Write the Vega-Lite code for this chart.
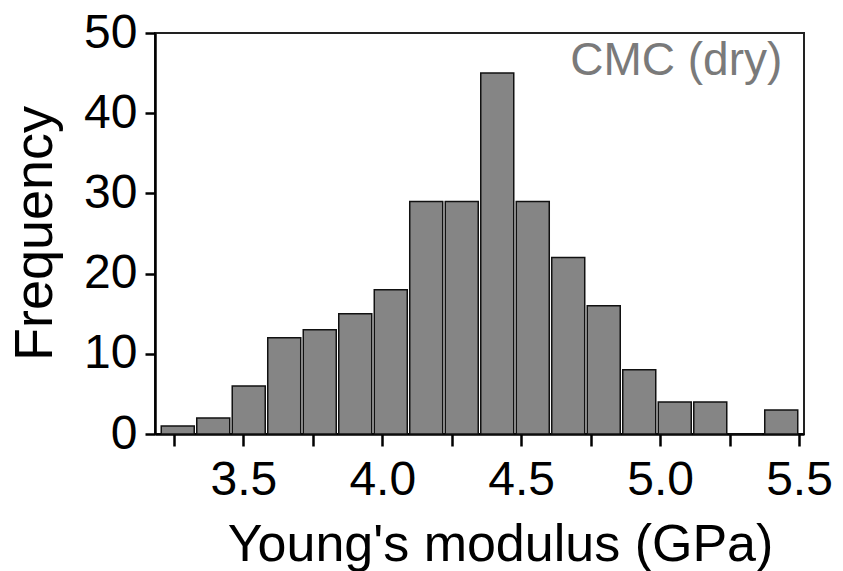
{
  "$schema": "https://vega.github.io/schema/vega-lite/v6.json",
  "width": 649,
  "height": 401,
  "autosize": {"type": "none"},
  "padding": {"left": 155, "top": 33, "right": 39, "bottom": 137},
  "background": "white",
  "config": {
    "view": {"stroke": "#222222", "strokeWidth": 2},
    "font": "Liberation Sans"
  },
  "layer": [
    {
      "data": {
        "values": [
          {"modulus": 3.2639, "frequency": 1},
          {"modulus": 3.3917, "frequency": 2},
          {"modulus": 3.5194, "frequency": 6},
          {"modulus": 3.6472, "frequency": 12},
          {"modulus": 3.775, "frequency": 13},
          {"modulus": 3.9028, "frequency": 15},
          {"modulus": 4.0306, "frequency": 18},
          {"modulus": 4.1583, "frequency": 29},
          {"modulus": 4.2861, "frequency": 29},
          {"modulus": 4.4139, "frequency": 45},
          {"modulus": 4.5417, "frequency": 29},
          {"modulus": 4.6694, "frequency": 22},
          {"modulus": 4.7972, "frequency": 16},
          {"modulus": 4.925, "frequency": 8},
          {"modulus": 5.0528, "frequency": 4},
          {"modulus": 5.1806, "frequency": 4},
          {"modulus": 5.3083, "frequency": 0},
          {"modulus": 5.4361, "frequency": 3}
        ]
      },
      "mark": {"type": "bar", "width": 33, "fill": "#858585", "stroke": "#111111", "strokeWidth": 1.5},
      "encoding": {
        "x": {
          "field": "modulus",
          "type": "quantitative",
          "scale": {"domain": [3.2, 5.5], "nice": false, "zero": false},
          "axis": {
            "title": "Young's modulus (GPa)",
            "values": [3.25, 3.5, 3.75, 4.0, 4.25, 4.5, 4.75, 5.0, 5.25, 5.5],
            "labelExpr": "(datum.value * 2) % 1 == 0 ? format(datum.value, '.1f') : ''",
            "grid": false,
            "domainColor": "black",
            "domainWidth": 2.5,
            "tickColor": "black",
            "tickWidth": 2.5,
            "tickSize": 12,
            "labelFontSize": 48,
            "labelColor": "black",
            "labelPadding": 10,
            "labelFlush": false,
            "labelOverlap": false,
            "titleFontSize": 52,
            "titleFontWeight": "normal",
            "titleColor": "black",
            "titleX": 345,
            "titleY": 126,
            "titleBaseline": "alphabetic",
            "titleAnchor": "middle",
            "titleAlign": "center"
          }
        },
        "y": {
          "field": "frequency",
          "type": "quantitative",
          "scale": {"domain": [0, 50], "nice": false},
          "axis": {
            "title": "Frequency",
            "values": [0, 10, 20, 30, 40, 50],
            "grid": false,
            "domainColor": "black",
            "domainWidth": 2.5,
            "tickColor": "black",
            "tickWidth": 2.5,
            "tickSize": 10,
            "labelFontSize": 48,
            "labelColor": "black",
            "labelPadding": 8,
            "labelFlush": false,
            "labelOverlap": false,
            "titleFontSize": 54,
            "titleFontWeight": "normal",
            "titleColor": "black",
            "titleAngle": -90,
            "titleX": -120,
            "titleY": 200,
            "titleBaseline": "middle",
            "titleAlign": "center"
          }
        }
      }
    },
    {
      "data": {"values": [{"modulus": 5.44, "frequency": 44.8, "label": "CMC (dry)"}]},
      "mark": {"type": "text", "align": "right", "baseline": "alphabetic", "fontSize": 46, "color": "#7a7a7a"},
      "encoding": {
        "x": {"field": "modulus", "type": "quantitative"},
        "y": {"field": "frequency", "type": "quantitative"},
        "text": {"field": "label"}
      }
    }
  ]
}
